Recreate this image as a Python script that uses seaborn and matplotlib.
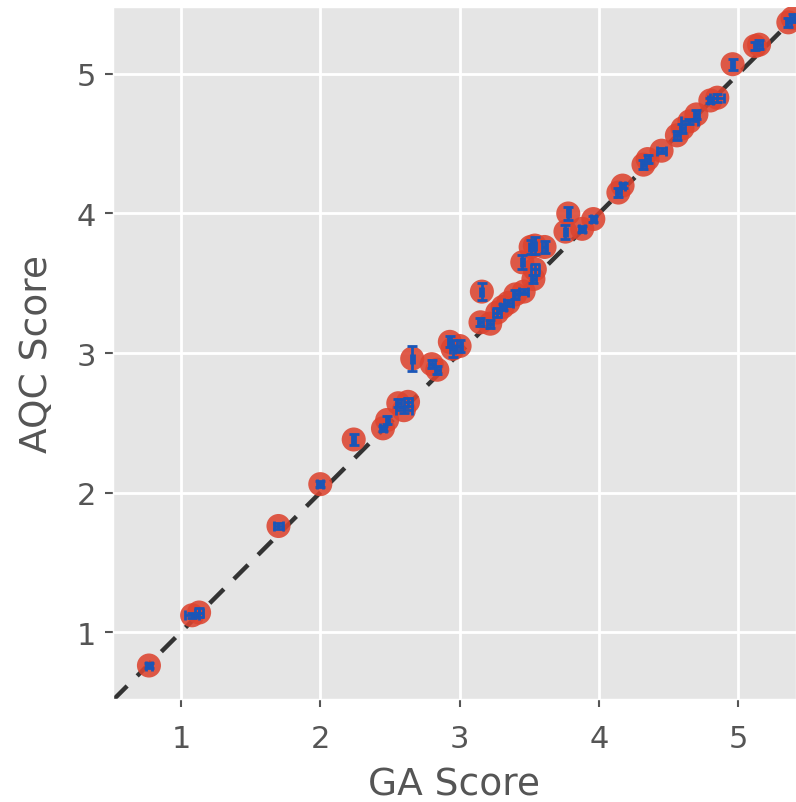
import matplotlib
matplotlib.use("Agg")
import matplotlib.pyplot as plt
import seaborn as sns
import numpy as np
import pandas as pd

plt.style.use("ggplot")

ga_score = [0.77, 1.08, 1.13, 1.70, 2.00, 2.24, 2.45, 2.48, 2.56, 2.60, 2.63, 2.66,
            2.80, 2.84, 2.93, 2.95, 3.00, 3.16, 3.15, 3.22, 3.27, 3.31, 3.35, 3.40,
            3.46, 3.53, 3.54, 3.45, 3.51, 3.54, 3.61, 3.76, 3.78, 3.88, 3.96, 4.14,
            4.17, 4.32, 4.35, 4.45, 4.56, 4.60, 4.65, 4.70, 4.80, 4.85, 4.96, 5.12,
            5.15, 5.36, 5.39]
aqc_score = [0.76, 1.12, 1.14, 1.76, 2.06, 2.38, 2.46, 2.52, 2.64, 2.59, 2.65, 2.96,
             2.92, 2.88, 3.08, 3.03, 3.05, 3.44, 3.22, 3.21, 3.29, 3.33, 3.36, 3.42,
             3.44, 3.53, 3.60, 3.65, 3.76, 3.77, 3.76, 3.87, 4.00, 3.89, 3.96, 4.15,
             4.20, 4.35, 4.39, 4.45, 4.56, 4.61, 4.66, 4.71, 4.81, 4.83, 5.07, 5.20,
             5.21, 5.37, 5.40]
ga_err = [0.02, 0.05, 0.03, 0.03, 0.02, 0.01, 0.02, 0.01, 0.02, 0.06, 0.03, 0.01,
          0.02, 0.02, 0.01, 0.02, 0.02, 0.01, 0.02, 0.02, 0.03, 0.02, 0.03, 0.02,
          0.03, 0.02, 0.03, 0.01, 0.01, 0.01, 0.02, 0.01, 0.01, 0.02, 0.02, 0.02,
          0.02, 0.02, 0.02, 0.03, 0.02, 0.02, 0.06, 0.02, 0.02, 0.05, 0.01, 0.01,
          0.02, 0.02, 0.02]
aqc_err = [0.02, 0.02, 0.03, 0.02, 0.02, 0.04, 0.02, 0.03, 0.03, 0.02, 0.03, 0.09,
           0.03, 0.03, 0.04, 0.06, 0.04, 0.06, 0.03, 0.03, 0.03, 0.02, 0.02, 0.03,
           0.02, 0.03, 0.04, 0.05, 0.05, 0.06, 0.04, 0.05, 0.05, 0.02, 0.02, 0.03,
           0.02, 0.03, 0.03, 0.02, 0.03, 0.03, 0.02, 0.03, 0.02, 0.03, 0.04, 0.03,
           0.03, 0.03, 0.03]

df = pd.DataFrame({"GA Score": ga_score, "AQC Score": aqc_score,
                   "ga_err": ga_err, "aqc_err": aqc_err})

fig = plt.figure(figsize=(7.96, 8.03), dpi=100)
ax = fig.add_axes([113 / 796, 1 - 700 / 803, 683 / 796, 692 / 803])

lo, hi = 0.512, 5.415
ax.plot([lo, hi], [lo, hi], linestyle=(0, (4.5, 3.2)), color="#333333", lw=3.2, zorder=2)

sns.scatterplot(data=df, x="GA Score", y="AQC Score", ax=ax, s=300,
                color="#DC4430", alpha=0.88, edgecolor="none", zorder=3)
ax.errorbar(df["GA Score"], df["AQC Score"], xerr=df["ga_err"], yerr=df["aqc_err"],
            fmt="none", ecolor="#1a56b8", elinewidth=2, capsize=3.5, capthick=2, zorder=4)

ax.set_xlim(lo, hi)
ax.set_ylim(0.52, 5.48)
ax.set_xticks([1, 2, 3, 4, 5])
ax.set_yticks([1, 2, 3, 4, 5])
ax.tick_params(labelsize=22, colors="#555555", length=6, width=1.5)
ax.tick_params(axis="x", pad=12)
ax.tick_params(axis="y", pad=6)
ax.set_xlabel("GA Score", fontsize=27, color="#555555", labelpad=10)
ax.set_ylabel("AQC Score", fontsize=27, color="#555555", labelpad=16)
ax.grid(True, color="white", lw=2)

fig.savefig("out.png", dpi=100)
